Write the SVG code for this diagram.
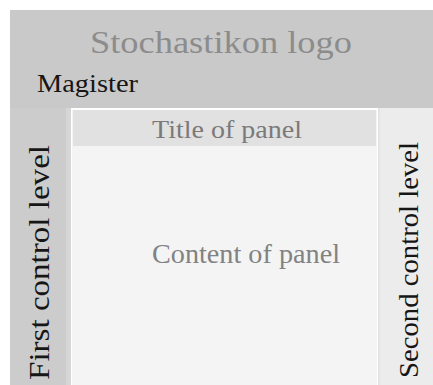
<svg xmlns="http://www.w3.org/2000/svg" width="433" height="385" viewBox="0 0 433 385">
<style>
.big{font-size:32px;fill:#8c8c8c}
.dark{fill:#161616}
.grey{fill:#7a7a7a}
</style>
<rect x="0" y="0" width="433" height="385" fill="#ffffff"/>
<g id="header" font-family="Liberation Serif, DejaVu Serif, serif">
<rect x="10" y="10" width="423" height="98" fill="#c9c9c9"/>
<text class="big" x="90" y="53" textLength="262" lengthAdjust="spacingAndGlyphs">Stochastikon logo</text>
<text class="dark" x="37" y="92" font-size="25" textLength="101" lengthAdjust="spacingAndGlyphs">Magister</text>
</g>
<g id="first-control" font-family="Liberation Serif, DejaVu Serif, serif">
<rect x="10" y="108" width="61" height="277" fill="#cccccc"/>
<rect x="66" y="108" width="5" height="277" fill="#d6d6d6"/>
<text class="dark" transform="translate(49,380) rotate(-90)" font-size="30" textLength="235" lengthAdjust="spacingAndGlyphs">First control level</text>
</g>
<g id="second-control" font-family="Liberation Serif, DejaVu Serif, serif">
<rect x="378" y="108" width="55" height="277" fill="#ececec"/>
<rect x="378" y="108" width="2" height="277" fill="#e4e4e4"/>
<text class="dark" transform="translate(418,378) rotate(-90)" font-size="28" textLength="236" lengthAdjust="spacingAndGlyphs">Second control level</text>
</g>
<g id="panel" font-family="Liberation Serif, DejaVu Serif, serif">
<rect x="71" y="108" width="307" height="277" fill="#ffffff"/>
<rect x="72" y="110" width="305" height="275" fill="#f4f4f4"/>
<rect x="73" y="110" width="303" height="36" fill="#e1e1e1"/>
<text class="grey" x="152" y="138" font-size="25" textLength="150" lengthAdjust="spacingAndGlyphs">Title of panel</text>
<text class="grey" x="152" y="263" font-size="27" textLength="188" lengthAdjust="spacingAndGlyphs" style="fill:#828282">Content of panel</text>
</g>
<g id="connectors"></g>
</svg>
